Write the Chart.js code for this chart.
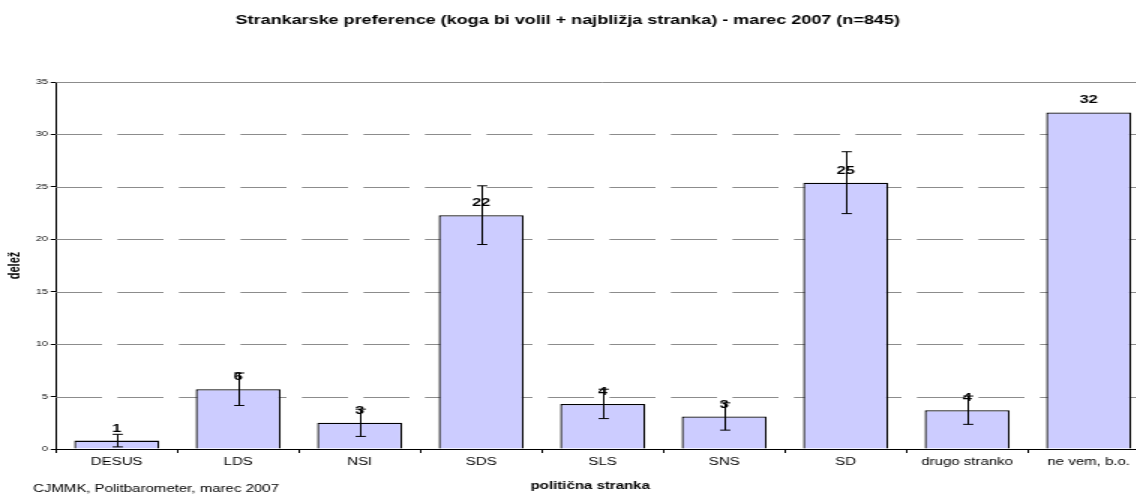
<!DOCTYPE html>
<html lang="sl">
<head>
<meta charset="UTF-8">
<title>Strankarske preference</title>
<script src="https://cdn.jsdelivr.net/npm/chart.js"></script>
<style>
  body { margin: 0; background: #fff; overflow: hidden; }
</style>
</head>
<body>
<!-- the original picture is stretched sideways and cut on the right,
     so the canvas is drawn narrow, widened by css and runs past the window -->
<canvas id="graf" width="770" height="498" style="width:1155px;height:498px;display:block"></canvas>
<script>
const stranke = ["DESUS", "LDS", "NSI", "SDS", "SLS", "SNS", "SD", "drugo stranko", "ne vem, b.o."];
const delez = [0.8, 5.7, 2.5, 22.3, 4.3, 3.1, 25.4, 3.7, 32.1];
const napaka = [0.6, 1.55, 1.3, 2.8, 1.4, 1.3, 2.95, 1.35, 0];
const oznake = ["1", "6", "3", "22", "4", "3", "25", "4", "32"];
const yTicks = [0, 5, 10, 15, 20, 25, 30, 35];

const naslov = 'Strankarske preference (koga bi volil + najbližja stranka) - marec 2007 (n=845)';
const naslovX = 'politična stranka';
const vir = 'CJMMK, Politbarometer, marec 2007';

const FONT = "'Liberation Sans', Arial, sans-serif";

const dodatki = {
  id: 'dodatki',
  beforeDatasetsDraw(chart) {
    const {ctx, chartArea, scales} = chart;
    ctx.save();
    ctx.strokeStyle = '#8c8c8c';
    ctx.lineWidth = 1;
    yTicks.forEach(v => {
      if (v === 0) return;
      const y = Math.round(scales.y.getPixelForValue(v)) + 0.5;
      ctx.setLineDash(v === 35 ? [] : [30.7, 10.3]);
      ctx.beginPath();
      ctx.moveTo(chartArea.left, y);
      ctx.lineTo(chartArea.right, y);
      ctx.stroke();
    });
    ctx.restore();
  },
  afterDatasetsDraw(chart) {
    const {ctx, scales} = chart;
    const meta = chart.getDatasetMeta(0);
    ctx.save();
    // oznake vrednosti
    ctx.fillStyle = '#000';
    ctx.font = 'bold 11px ' + FONT;
    ctx.textAlign = 'center';
    ctx.textBaseline = 'middle';
    meta.data.forEach((bar, i) => {
      ctx.fillText(oznake[i], bar.x, bar.y - 12);
    });
    // intervali napake
    ctx.strokeStyle = '#000';
    ctx.lineWidth = 1;
    meta.data.forEach((bar, i) => {
      if (!napaka[i]) return;
      const y1 = scales.y.getPixelForValue(delez[i] + napaka[i]);
      const y2 = scales.y.getPixelForValue(Math.max(0, delez[i] - napaka[i]));
      const x = Math.round(bar.x) + 0.5;
      ctx.beginPath();
      ctx.moveTo(x, y1); ctx.lineTo(x, y2);
      ctx.moveTo(x - 3.4, y1); ctx.lineTo(x + 3.4, y1);
      ctx.moveTo(x - 3.4, y2); ctx.lineTo(x + 3.4, y2);
      ctx.stroke();
    });
    ctx.restore();
  },
  afterDraw(chart) {
    const {ctx} = chart;
    ctx.save();
    ctx.fillStyle = '#000';
    ctx.textBaseline = 'middle';
    ctx.textAlign = 'center';
    ctx.font = 'bold 12px ' + FONT;
    ctx.fillText(naslov, 378.5, 21);
    ctx.font = 'bold 10px ' + FONT;
    ctx.fillText(naslovX, 393.5, 486);
    ctx.textAlign = 'left';
    ctx.font = '10px ' + FONT;
    ctx.fillText(vir, 22, 489);
    ctx.restore();
  }
};

new Chart(document.getElementById('graf'), {
  type: 'bar',
  data: {
    labels: stranke,
    datasets: [{
      data: delez,
      backgroundColor: '#ccccff',
      borderColor: '#000',
      borderWidth: 1.3,
      barPercentage: 0.7,
      categoryPercentage: 1
    }]
  },
  options: {
    responsive: false,
    animation: false,
    layout: { padding: { left: 0, right: 3.7, top: 82, bottom: 0 } },
    plugins: {
      legend: { display: false },
      tooltip: { enabled: false },
      title: { display: false }
    },
    scales: {
      x: {
        grid: { display: true, drawOnChartArea: false, drawTicks: true, offset: true, tickLength: 4, color: '#000' },
        border: { color: '#000', width: 1 },
        ticks: { color: '#000', font: { family: FONT, size: 10 }, padding: 3, maxRotation: 0, autoSkip: false },
        afterFit(s) { s.height = 49; }
      },
      y: {
        min: 0,
        max: 35,
        afterBuildTicks(s) { s.ticks = yTicks.map(v => ({ value: v })); },
        grid: { display: true, drawOnChartArea: false, drawTicks: true, tickLength: 3.5, color: '#000' },
        border: { color: '#000', width: 1 },
        ticks: { color: '#000', font: { family: FONT, size: 7 }, padding: 2 },
        title: { display: true, text: 'delež', color: '#000', font: { family: FONT, size: 11, weight: 'bold' }, padding: { top: 3, bottom: 0 } },
        afterFit(s) { s.width = 37.3; }
      }
    }
  },
  plugins: [dodatki]
});
</script>
</body>
</html>
